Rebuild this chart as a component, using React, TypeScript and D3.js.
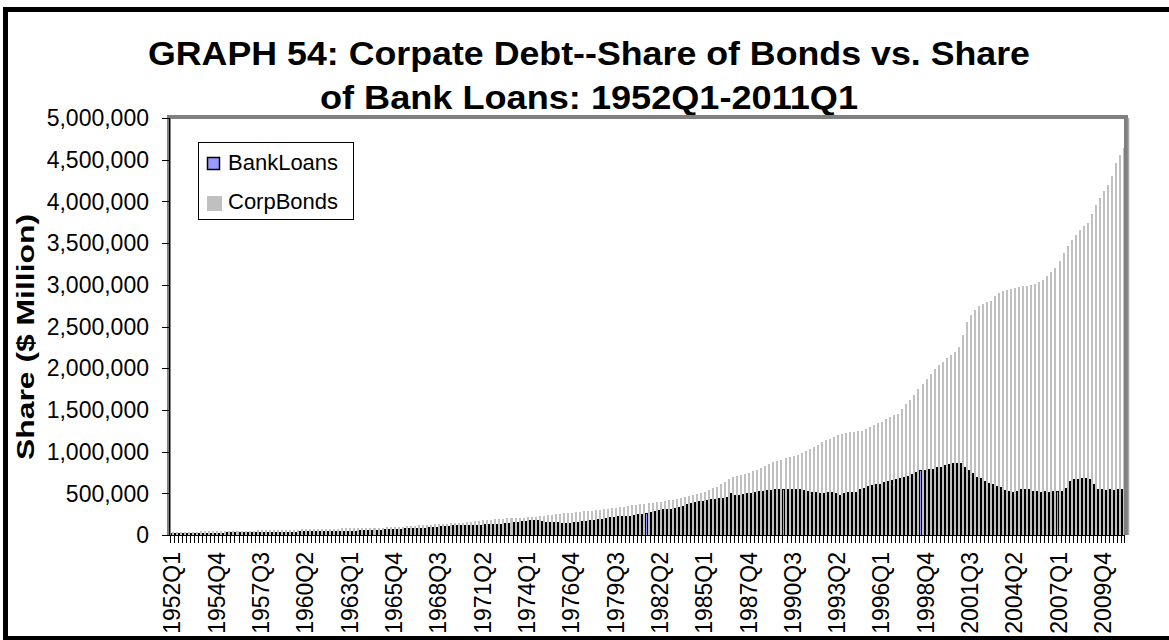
import React from "react";
import * as d3 from "d3";

const startYear = 1952;
const endYear = 2011;
const quarters: string[] = [];
for (let y = startYear; y <= endYear; y++) {
  for (let q = 1; q <= 4; q++) {
    if (y === endYear && q > 1) break;
    quarters.push(`${y}Q${q}`);
  }
}

const bankLoans: number[] = [
  // 1952-1959
  20000, 20500, 21000, 21500, 22000, 22000, 21500, 21000,
  20500, 20500, 21000, 21500, 22000, 23000, 24500, 25500,
  26500, 28000, 29000, 30000, 30500, 31000, 31500, 31000,
  30500, 30000, 30000, 30500, 31500, 33000, 34500, 35500,
  // 1960-1967
  36500, 37500, 38000, 38500, 38500, 38500, 39000, 39500,
  40000, 41000, 42000, 43000, 44000, 45000, 46500, 48000,
  49500, 51000, 52500, 54500, 57000, 60000, 63000, 65500,
  66000, 70000, 72000, 72500, 73000, 74000, 76000, 82000,
  // 1968-1975
  88000, 91000, 93000, 96000, 100000, 104000, 108000, 111000,
  113000, 114000, 116000, 118000, 118000, 119000, 120000, 121000,
  122000, 125000, 130000, 135000, 140000, 146000, 152000, 158000,
  163000, 168000, 172000, 170000, 162000, 155000, 150000, 147000,
  // 1976-1983
  145000, 143000, 142000, 142000, 144000, 150000, 156000, 162000,
  168000, 175000, 182000, 190000, 197000, 204000, 212000, 218000,
  222000, 220000, 224000, 232000, 240000, 250000, 262000, 274000,
  284000, 292000, 300000, 306000, 310000, 316000, 328000, 345000,
  // 1984-1991
  360000, 375000, 388000, 398000, 406000, 414000, 422000, 430000,
  434000, 438000, 444000, 492000, 472000, 474000, 480000, 492000,
  502000, 510000, 518000, 524000, 535000, 538000, 541000, 543000,
  545000, 546000, 547000, 546000, 542000, 534000, 522000, 512000,
  // 1992-1999
  506000, 503000, 502000, 504000, 505000, 503000, 470000, 500000,
  504000, 505000, 508000, 548000, 552000, 577000, 590000, 600000,
  610000, 625000, 645000, 655000, 668000, 675000, 690000, 700000,
  725000, 745000, 770000, 778000, 785000, 790000, 805000, 815000,
  // 2000-2007
  835000, 850000, 860000, 862000, 858000, 805000, 770000, 740000,
  690000, 680000, 640000, 620000, 600000, 578000, 572000, 530000,
  516000, 515000, 517000, 540000, 542000, 540000, 518000, 516000,
  515000, 516000, 515000, 517000, 516000, 518000, 560000, 640000,
  // 2008-2011Q1
  662000, 664000, 675000, 678000, 660000, 600000, 550000, 540000,
  538000, 540000, 536000, 542000, 545000,
];

const corpBonds: number[] = [
  // 1952-1959
  35000, 36000, 37000, 38000, 39000, 40000, 41000, 42000,
  43000, 44000, 44500, 45000, 46000, 46500, 47000, 47500,
  48500, 49500, 50500, 51500, 53000, 54500, 56000, 57500,
  59000, 60500, 61500, 62500, 63500, 64500, 65000, 65500,
  // 1960-1967
  66500, 67500, 68500, 69500, 71000, 72500, 73500, 74500,
  76000, 77000, 78000, 79000, 80500, 81500, 82500, 83500,
  85000, 86000, 87000, 88000, 89500, 91000, 92500, 94500,
  97000, 100000, 103000, 106000, 110000, 114000, 118000, 121000,
  // 1968-1975
  124000, 127000, 130000, 133000, 136000, 139000, 142000, 145000,
  149000, 154000, 159000, 164000, 170000, 176000, 181000, 185000,
  189000, 193000, 196000, 199000, 202000, 204000, 206000, 208000,
  211000, 215000, 219000, 224000, 231000, 239000, 245000, 250000,
  // 1976-1983
  255000, 260000, 264000, 268000, 272000, 277000, 282000, 287000,
  292000, 297000, 302000, 307000, 313000, 320000, 326000, 333000,
  340000, 348000, 356000, 362000, 367000, 372000, 378000, 385000,
  392000, 400000, 408000, 416000, 424000, 432000, 440000, 450000,
  // 1984-1991
  462000, 474000, 486000, 500000, 520000, 540000, 560000, 580000,
  610000, 640000, 668000, 690000, 705000, 718000, 730000, 745000,
  765000, 785000, 805000, 825000, 850000, 872000, 890000, 905000,
  920000, 935000, 950000, 962000, 985000, 1010000, 1035000, 1060000,
  // 1992-1999
  1085000, 1110000, 1135000, 1155000, 1175000, 1195000, 1210000, 1220000,
  1230000, 1238000, 1245000, 1250000, 1265000, 1290000, 1315000, 1340000,
  1360000, 1385000, 1410000, 1440000, 1450000, 1510000, 1570000, 1620000,
  1680000, 1750000, 1810000, 1870000, 1930000, 1990000, 2040000, 2080000,
  // 2000-2007
  2120000, 2160000, 2200000, 2260000, 2400000, 2550000, 2640000, 2700000,
  2740000, 2770000, 2790000, 2810000, 2860000, 2900000, 2920000, 2940000,
  2950000, 2960000, 2970000, 2980000, 2990000, 3000000, 3010000, 3030000,
  3060000, 3100000, 3150000, 3200000, 3280000, 3380000, 3460000, 3540000,
  // 2008-2011Q1
  3600000, 3660000, 3700000, 3740000, 3850000, 3960000, 4040000, 4120000,
  4200000, 4300000, 4460000, 4560000, 4640000,
];

const yTicks: number[] = [0, 500000, 1000000, 1500000, 2000000, 2500000, 3000000, 3500000, 4000000, 4500000, 5000000];
const labelEvery = 11;

const titleLines = [
  "GRAPH 54: Corpate Debt--Share of Bonds vs. Share",
  "of Bank Loans: 1952Q1-2011Q1",
];
const yTitle = "Share ($ Million)";
const seriesNames = ["BankLoans", "CorpBonds"];

const W = 1169;
const H = 640;
const plot = { left: 170, right: 1125, top: 118, bottom: 535 };
const font = "'Liberation Sans', Arial, sans-serif";

export default function App() {
  const x = d3
    .scaleBand<string>()
    .domain(quarters)
    .range([plot.left, plot.right])
    .paddingInner(0)
    .paddingOuter(0);
  const y = d3.scaleLinear().domain([0, 5000000]).range([plot.bottom, plot.top]);
  const bw = x.bandwidth();
  const half = bw / 2;
  const fmt = d3.format(",");

  return (
    <svg
      width={W}
      height={H}
      style={{ position: "absolute", left: 0, top: 0, background: "#fff" }}
      fontFamily={font}
    >
      <rect x={0} y={0} width={W} height={H} fill="#fff" />
      {/* outer chart border */}
      <rect x={5.5} y={9.5} width={W + 20} height={629} fill="none" stroke="#000" strokeWidth={5} />

      {/* title */}
      <text x={589} y={65} textAnchor="middle" fontSize={33} fontWeight="bold" textLength={882} lengthAdjust="spacingAndGlyphs">
        {titleLines[0]}
      </text>
      <text x={589} y={109} textAnchor="middle" fontSize={33} fontWeight="bold" textLength={538} lengthAdjust="spacingAndGlyphs">
        {titleLines[1]}
      </text>

      {/* bars */}
      <g shapeRendering="crispEdges">
        {quarters.map((q, i) => (
          <rect
            key={"cb" + q}
            x={(x(q) as number) + half}
            y={y(corpBonds[i])}
            width={half}
            height={plot.bottom - y(corpBonds[i])}
            fill="#C0C0C0"
          />
        ))}
        {quarters.map((q, i) => (
          <rect
            key={"bl" + q}
            x={(x(q) as number) + 0.5}
            y={y(bankLoans[i])}
            width={Math.max(half - 1, 0.5)}
            height={plot.bottom - y(bankLoans[i])}
            fill="#9999FF"
            stroke="#000"
            strokeWidth={1}
          />
        ))}
      </g>

      {/* plot area frame */}
      <path
        d={`M${plot.left - 1},${plot.bottom} V${plot.top - 1} H${plot.right + 1} V${plot.bottom}`}
        fill="none"
        stroke="#808080"
        strokeWidth={4}
      />
      <line x1={plot.right + 3.5} y1={plot.top} x2={plot.right + 3.5} y2={plot.bottom} stroke="#a8a8a8" strokeWidth={1.5} />

      {/* y axis */}
      <g shapeRendering="crispEdges">
        <line x1={plot.left - 0.5} x2={plot.left - 0.5} y1={plot.top} y2={plot.bottom} stroke="#000" strokeWidth={1} />
        {yTicks.map((t) => (
          <line key={"yt" + t} x1={162} x2={plot.left} y1={Math.round(y(t)) + 0.5} y2={Math.round(y(t)) + 0.5} stroke="#000" />
        ))}
      </g>
      {yTicks.map((t) => (
        <text key={"yl" + t} x={149} y={y(t)} dy="0.36em" textAnchor="end" fontSize={23}>
          {fmt(t)}
        </text>
      ))}
      <text
        transform={`translate(34,337) rotate(-90)`}
        textAnchor="middle"
        fontSize={23}
        fontWeight="bold"
        textLength={246}
        lengthAdjust="spacingAndGlyphs"
      >
        {yTitle}
      </text>

      {/* x axis */}
      <g shapeRendering="crispEdges">
        <line x1={plot.left} x2={plot.right} y1={plot.bottom + 0.5} y2={plot.bottom + 0.5} stroke="#000" />
        {quarters.map((q) => (
          <line
            key={"xt" + q}
            x1={Math.round(x(q) as number) + 0.5}
            x2={Math.round(x(q) as number) + 0.5}
            y1={plot.bottom}
            y2={plot.bottom + 8}
            stroke="#000"
          />
        ))}
        <line x1={plot.right - 0.5} x2={plot.right - 0.5} y1={plot.bottom} y2={plot.bottom + 8} stroke="#000" />
      </g>
      {quarters.map((q, i) =>
        i % labelEvery === 0 ? (
          <text
            key={"xl" + q}
            transform={`translate(${(x(q) as number) + bw / 2},${plot.bottom + 17}) rotate(-90)`}
            textAnchor="end"
            dy="0.36em"
            fontSize={23}
          >
            {q}
          </text>
        ) : null
      )}

      {/* legend */}
      <rect x={198.5} y={142.5} width={155} height={77} fill="#fff" stroke="#000" strokeWidth={1} />
      <rect x={207.5} y={157.5} width={12} height={12} fill="#9999FF" stroke="#000" strokeWidth={1.5} />
      <text x={228} y={170} fontSize={22}>{seriesNames[0]}</text>
      <rect x={207} y={196} width={15} height={15} fill="#C0C0C0" />
      <text x={228} y={209} fontSize={22}>{seriesNames[1]}</text>
    </svg>
  );
}
